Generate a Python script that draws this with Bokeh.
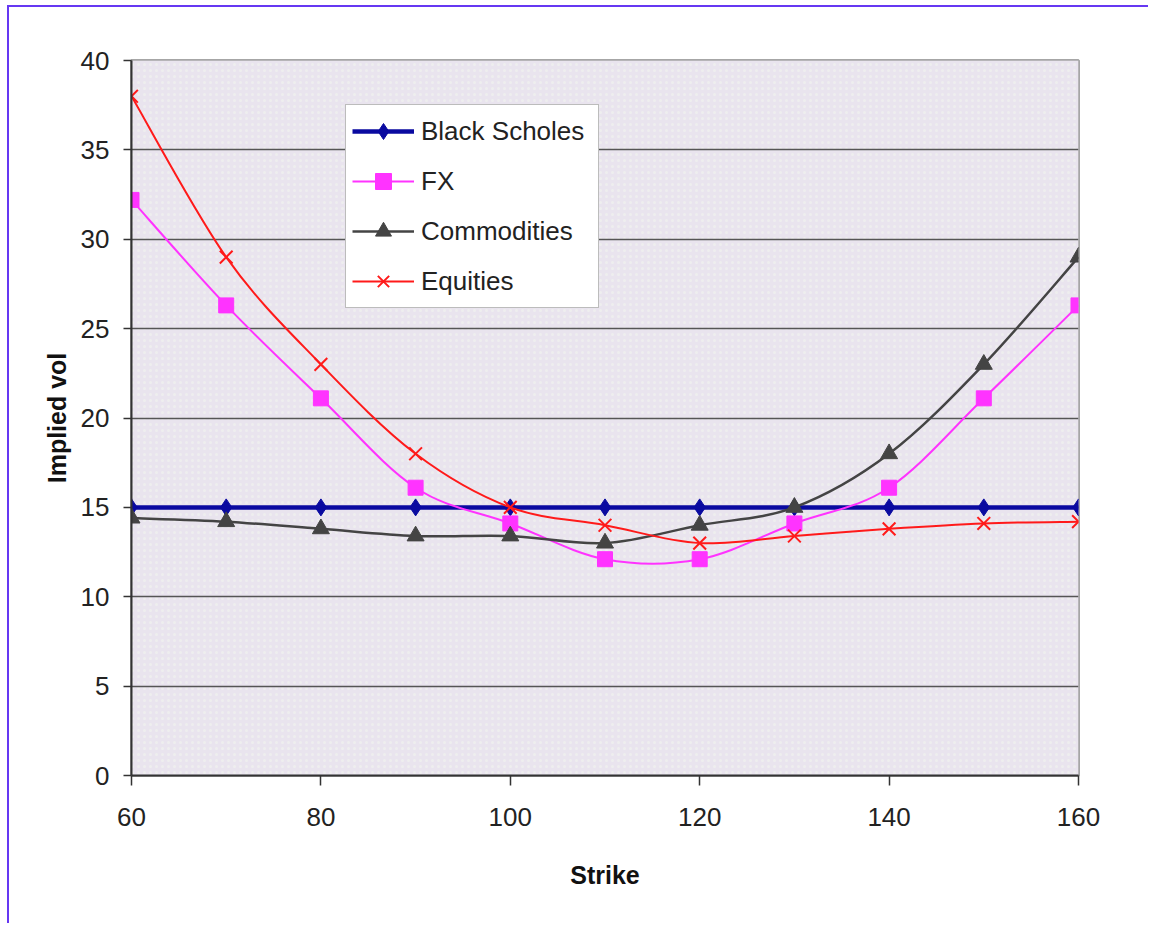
from bokeh.plotting import figure
from bokeh.models import FixedTicker, Legend, LegendItem, Range1d, BoxAnnotation
from bokeh.embed import file_html
from bokeh.resources import INLINE

# Implied volatility smiles by asset class
strikes = [60, 70, 80, 90, 100, 110, 120, 130, 140, 150, 160]
black_scholes = [15, 15, 15, 15, 15, 15, 15, 15, 15, 15, 15]
fx = [32.2, 26.3, 21.1, 16.1, 14.1, 12.1, 12.1, 14.1, 16.1, 21.1, 26.3]
commodities = [14.4, 14.2, 13.8, 13.4, 13.4, 13.0, 14.0, 15.0, 18.0, 23.0, 29.0]
equities = [38.0, 29.0, 23.0, 18.0, 15.0, 14.0, 13.0, 13.4, 13.8, 14.1, 14.2]

x_ticks = [60, 80, 100, 120, 140, 160]
y_ticks = [0, 5, 10, 15, 20, 25, 30, 35, 40]

FONT = "Liberation Sans"


def smooth_segments(xs, ys):
    """Cubic Bezier control points (Catmull-Rom style) through each point."""
    n = len(xs)
    seg = dict(x0=[], y0=[], x1=[], y1=[], cx0=[], cy0=[], cx1=[], cy1=[])
    for i in range(n - 1):
        xa, ya = (xs[i - 1], ys[i - 1]) if i > 0 else (xs[i], ys[i])
        xb, yb = xs[i], ys[i]
        xc, yc = xs[i + 1], ys[i + 1]
        xd, yd = (xs[i + 2], ys[i + 2]) if i + 2 < n else (xs[i + 1], ys[i + 1])
        seg["x0"].append(xb)
        seg["y0"].append(yb)
        seg["x1"].append(xc)
        seg["y1"].append(yc)
        seg["cx0"].append(xb + (xc - xa) / 6.0)
        seg["cy0"].append(yb + (yc - ya) / 6.0)
        seg["cx1"].append(xc - (xd - xb) / 6.0)
        seg["cy1"].append(yc - (yd - yb) / 6.0)
    return seg


p = figure(
    width=1141, height=918,
    x_range=Range1d(60, 160), y_range=Range1d(0, 40),
    output_backend="svg", toolbar_location=None,
    min_border_left=122, min_border_right=72,
    min_border_top=53, min_border_bottom=150,
    background_fill_color="#e9e4ee", border_fill_color="white",
)
p.styles = {
    "margin-top": "5px",
    "margin-left": "7px",
    "border-top": "2px solid #6638f2",
    "border-left": "2px solid #6638f2",
}

# dotted texture of the plot area
p.add_layout(BoxAnnotation(
    fill_color="#e9e4ee", fill_alpha=1.0, line_alpha=0,
    hatch_pattern="dot", hatch_color="#f3f6ef", hatch_alpha=0.55,
    hatch_scale=6, hatch_weight=1.2, level="image",
))

p.outline_line_color = "#a6a6a6"
p.outline_line_width = 3

p.xgrid.visible = False
p.ygrid.ticker = FixedTicker(ticks=[5, 10, 15, 20, 25, 30, 35])
p.ygrid.grid_line_color = "#555555"
p.ygrid.grid_line_width = 1.5

p.xaxis.ticker = FixedTicker(ticks=x_ticks)
p.yaxis.ticker = FixedTicker(ticks=y_ticks)
for ax in (p.xaxis, p.yaxis):
    ax.minor_tick_line_color = None
    ax.major_tick_in = 0
    ax.major_tick_line_color = "#333333"
    ax.major_tick_line_width = 1.5
    ax.axis_line_color = "#333333"
    ax.axis_line_width = 2
    ax.major_label_text_font = FONT
    ax.major_label_text_font_size = "26px"
    ax.major_label_text_color = "#222222"
    ax.axis_label_text_font = FONT
    ax.axis_label_text_font_size = "25px"
    ax.axis_label_text_font_style = "bold"
    ax.axis_label_text_color = "#111111"
p.yaxis.major_tick_out = 8
p.xaxis.major_tick_out = 10
p.yaxis.major_label_standoff = 14
p.xaxis.major_label_standoff = 22
p.xaxis.axis_label = "Strike"
p.yaxis.axis_label = "Implied vol"
p.xaxis.axis_label_standoff = 32
p.yaxis.axis_label_standoff = 7

series = [
    ("Black Scholes", black_scholes, "#0a0aa0", 4.5, "diamond", 17, None),
    ("FX", fx, "#ff33ff", 2.0, "square", 15, None),
    ("Commodities", commodities, "#444444", 2.5, "triangle", 17, None),
    ("Equities", equities, "#ff1a1a", 2.0, "x", 18, 2.0),
]

items = []
for name, vals, color, lw, marker, size, mlw in series:
    seg = smooth_segments(strikes, vals)
    curve = p.bezier(source=seg, x0="x0", y0="y0", x1="x1", y1="y1",
                     cx0="cx0", cy0="cy0", cx1="cx1", cy1="cy1",
                     line_color=color, line_width=lw)
    if marker == "x":
        pts = p.scatter(strikes, vals, marker=marker, size=size,
                        line_color=color, line_width=mlw)
    else:
        pts = p.scatter(strikes, vals, marker=marker, size=size,
                        fill_color=color, line_color=color, line_width=1)
    items.append(LegendItem(label=name, renderers=[curve, pts]))

legend = Legend(
    items=items, location=(214, 467),
    label_text_font=FONT, label_text_font_size="26px",
    label_text_color="#222222",
    glyph_width=62, glyph_height=40, label_height=40, label_width=171,
    label_standoff=7, spacing=10, padding=6, margin=0,
    border_line_color="#7a7a7a", border_line_width=1.5,
    background_fill_color="white", background_fill_alpha=1.0,
)
p.add_layout(legend, "center")

open("out.html", "w").write(file_html(p, INLINE))
